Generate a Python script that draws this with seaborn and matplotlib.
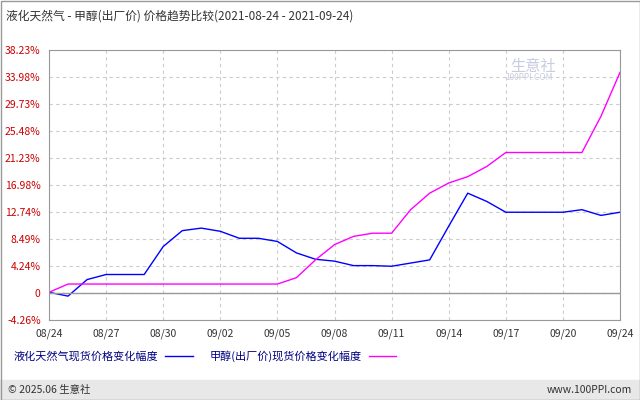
import matplotlib
matplotlib.use("Agg")
import matplotlib.pyplot as plt
import seaborn as sns
import pandas as pd
from matplotlib.lines import Line2D

dates = ["08/24","08/25","08/26","08/27","08/28","08/29","08/30","08/31","09/01","09/02","09/03",
         "09/04","09/05","09/06","09/07","09/08","09/09","09/10","09/11","09/12","09/13","09/14",
         "09/15","09/16","09/17","09/18","09/19","09/20","09/21","09/22","09/24"]
lng = [0.1,-0.5,2.1,2.9,2.9,2.9,7.3,9.8,10.2,9.7,8.6,8.6,8.1,6.3,5.3,5.0,4.3,4.3,4.2,4.7,5.2,
       10.5,15.7,14.4,12.7,12.7,12.7,12.7,13.1,12.2,12.7]
methanol = [0.1,1.4,1.4,1.4,1.4,1.4,1.4,1.4,1.4,1.4,1.4,1.4,1.4,2.4,5.2,7.6,8.9,9.4,9.4,13.1,15.7,
            17.3,18.3,19.9,22.1,22.1,22.1,22.1,22.1,27.8,34.7]
tick_labels = ["08/24","08/27","08/30","09/02","09/05","09/08","09/11","09/14","09/17","09/20","09/24"]
tick_idx = [0,3,6,9,12,15,18,21,24,27,30]
ytick_vals = [38.23,33.98,29.73,25.48,21.23,16.98,12.74,8.49,4.24,0,-4.26]
ytick_labels = ["38.23%","33.98%","29.73%","25.48%","21.23%","16.98%","12.74%","8.49%","4.24%","0","-4.26%"]

plt.rcParams["font.family"] = ["Noto Sans CJK SC", "DejaVu Sans"]
fig = plt.figure(figsize=(6.4, 4.0), dpi=100)
ax = fig.add_axes([49/640, 1-320/400, 571/640, 270/400])

df = pd.DataFrame({"i": range(len(dates)), "lng": lng, "m": methanol})
sns.lineplot(data=df, x="i", y="lng", ax=ax, color="#0000ff", lw=1)
sns.lineplot(data=df, x="i", y="m", ax=ax, color="#ff00ff", lw=1)

ax.set_xlim(0, len(dates)-1)
ax.set_ylim(-4.26, 38.23)
ax.set_xticks(tick_idx)
ax.set_xticklabels(tick_labels, fontsize=7.5, color="#333333")
ax.set_yticks(ytick_vals)
ax.set_yticklabels(ytick_labels, fontsize=7.5, color="#cc0000")
ax.tick_params(length=0, pad=6)
ax.set_xlabel(""); ax.set_ylabel("")
ax.grid(True, ls=(0, (3, 3)), color="#cccccc", lw=0.8)
ax.axhline(0, color="#999999", lw=1)
for s in ax.spines.values():
    s.set_color("#999999")

fig.text(6/640, 1-16/400, "液化天然气 - 甲醇(出厂价) 价格趋势比较(2021-08-24 - 2021-09-24)",
         fontsize=8.5, color="#333333", va="center")
fig.text(510/640, 1-66/400, "生意社", fontsize=11, color="#c8cce0", va="center")
fig.text(505/640, 1-78/400, "100PPI.COM", fontsize=6, color="#c8cce0", va="center")

fig.legend(handles=[Line2D([], [], color="#0000ff", lw=1), Line2D([], [], color="#ff00ff", lw=1)],
           labels=["液化天然气现货价格变化幅度", "甲醇(出厂价)现货价格变化幅度"],
           loc="center left", bbox_to_anchor=(4/640, 1-356/400), ncol=2, frameon=False,
           markerfirst=False, fontsize=8, labelcolor="#000080", handlelength=2.5,
           handletextpad=0.6, columnspacing=1.5)

fig.patches.append(plt.Rectangle((0, 0), 1, 20/400, transform=fig.transFigure,
                                 color="#e8e8e8", zorder=-1))
fig.patches.append(plt.Rectangle((0.5/640, 0.5/400), 639/640, 399/400, transform=fig.transFigure,
                                 fill=False, ec="#999999", lw=1))
fig.text(8/640, 10/400, "© 2025.06 生意社", fontsize=7.5, color="#333333", va="center")
fig.text(632/640, 10/400, "www.100PPI.com", fontsize=7.5, color="#333333", va="center", ha="right")
fig.savefig("out.png", dpi=100)
